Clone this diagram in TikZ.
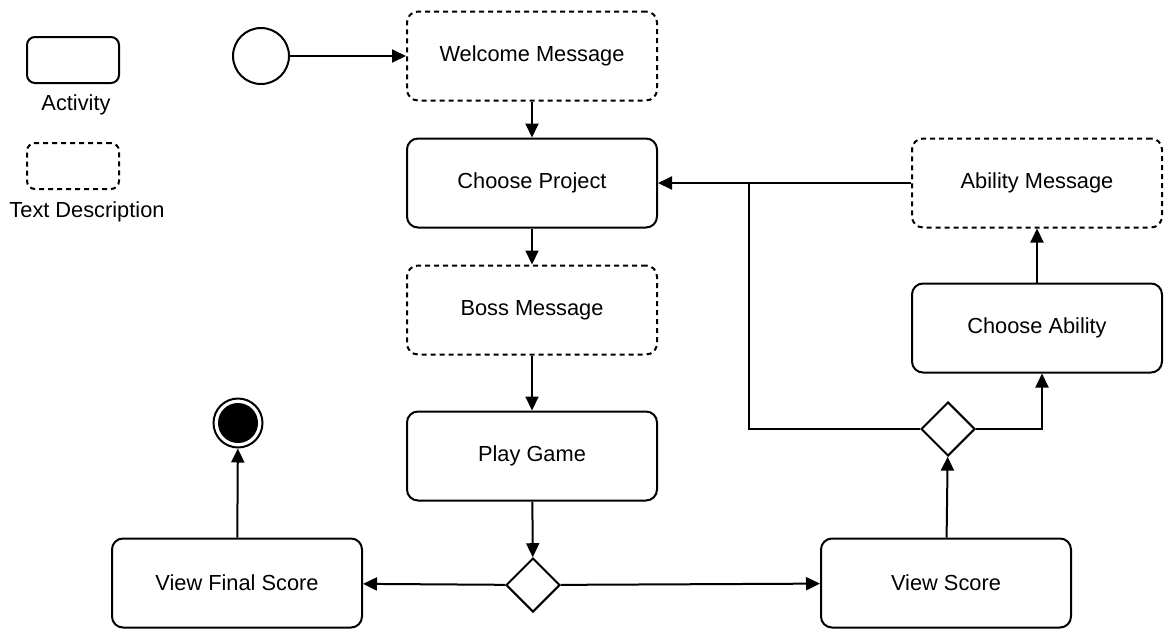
\documentclass[tikz,border=0pt]{standalone}
\usepackage{fontspec}
\setmainfont{Liberation Sans}
\usetikzlibrary{arrows.meta,shapes.geometric}
\tikzset{
  base/.style={line width=2pt, rounded corners=11pt, minimum width=250pt, minimum height=89pt, align=center, font=\fontsize{21.8}{26}\selectfont},
  act/.style={base, draw},
  desc/.style={base, draw, dash pattern=on 5pt off 4pt},
  legact/.style={draw, line width=2pt, rounded corners=8pt, minimum width=92pt, minimum height=46pt},
  legdesc/.style={legact, dash pattern=on 5pt off 4pt},
  lbl/.style={font=\fontsize{21.8}{26}\selectfont},
  dec/.style={draw, line width=2pt, diamond, minimum width=54pt, minimum height=54pt, inner sep=0pt},
  conn/.style={line width=2pt, -{Triangle[length=14pt,width=13pt]}},
  plain/.style={line width=2pt},
}
\begin{document}
\begin{tikzpicture}[x=1pt,y=-1pt]
\useasboundingbox (0,0) rectangle (1164,630);
% legend
\node[legact] (la) at (73,60) {};
\node[lbl] (lat) at (76,105) {Activity};
\node[legdesc] (ld) at (73,166) {};
\node[lbl] (ldt) at (87,212) {Text Description};
% nodes
\node[draw, circle, line width=2pt, minimum size=56pt, inner sep=0pt] (start) at (261,56) {};
\node[desc] (welcome) at (532,56) {Welcome Message};
\node[act] (project) at (532,183) {Choose Project};
\node[desc] (boss) at (532,310) {Boss Message};
\node[act] (play) at (532,456) {Play Game};
\node[dec] (d1) at (533,585) {};
\node[act] (final) at (237,583) {View Final Score};
\node[act] (score) at (946,583) {View Score};
\node[circle, draw, line width=2pt, minimum size=49pt, inner sep=0pt] (endo) at (238,423) {};
\node[circle, fill=black, minimum size=40pt, inner sep=0pt] (endi) at (238,423) {};
\node[dec] (d2) at (948,429) {};
\node[act] (ability) at (1037,328) {Choose Ability};
\node[desc] (amsg) at (1037,183) {Ability Message};
\coordinate (j) at (749,183);
\coordinate (jb) at (749,429);
\coordinate (r) at (1042,429);
% connectors
\draw[conn] (start) -- (welcome);
\draw[conn] (welcome) -- (project);
\draw[conn] (project) -- (boss);
\draw[conn] (boss) -- (play);
\draw[conn] (play) -- (d1);
\draw[conn] (d1) -- (final);
\draw[conn] (d1) -- (score);
\draw[conn] (final) -- (endo);
\draw[conn] (score) -- (d2);
\draw[conn] (amsg) -- (project);
\draw[plain] (j) -- (jb) -- (d2.west);
\draw[conn] (d2.east) -- (r) -- (ability.south -| r);
\draw[conn] (ability) -- (amsg);
\end{tikzpicture}
\end{document}
